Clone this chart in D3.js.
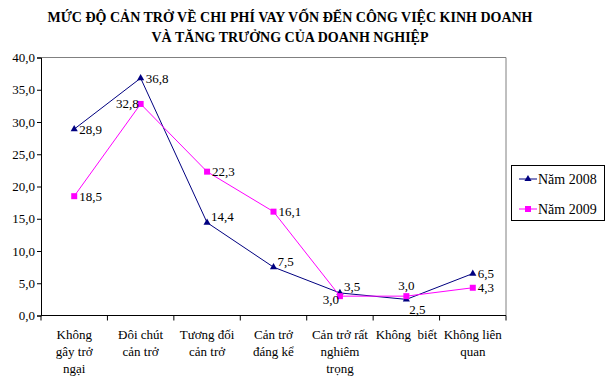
<!DOCTYPE html>
<html><head><meta charset="utf-8">
<script src="https://cdn.jsdelivr.net/npm/d3@7"></script>
<style>body{margin:0;background:#fff}</style>
</head><body><svg id="c" width="610" height="380"></svg>
<script>
const titleLines = ["MỨC ĐỘ CẢN TRỞ VỀ CHI PHÍ VAY VỐN ĐẾN CÔNG VIỆC KINH DOANH", "VÀ TĂNG TRƯỞNG CỦA DOANH NGHIỆP"];
const categories = ["Không gây trở ngại","Đôi chút cản trở","Tương đối cản trở","Cản trở đáng kể","Cản trở rất nghiêm trọng","Không  biết","Không liên quan"];
const categoryLines = [["Không","gây trở","ngại"],["Đôi chút","cản trở"],["Tương đối","cản trở"],["Cản trở","đáng kể"],["Cản trở rất","nghiêm","trọng"],["Không  biết"],["Không liên","quan"]];
const seriesNames = ["Năm 2008","Năm 2009"];
const values2008 = [28.9, 36.8, 14.4, 7.5, 3.5, 2.5, 6.5];
const values2009 = [18.5, 32.8, 22.3, 16.1, 3.0, 3.0, 4.3];
const yTicks = [0,5,10,15,20,25,30,35,40];
// label placement for each point
const labelPos2008 = ["right","right","rightUp","rightUp","rightUp","rightDown","right"];
const labelPos2009 = ["right","left","right","right","leftDown","above","right"];

const FONT = "'Liberation Serif', 'Times New Roman', serif";
const svg = d3.select("#c");
const colors = ["#000080","#FF00FF"];
const x = d3.scaleBand().domain(categories).range([41,506]);
const y = d3.scaleLinear().domain([0,40]).range([315.5,57.5]);

// title
svg.selectAll(".title").data(titleLines).join("text")
  .attr("x",290).attr("y",(d,i)=>22+i*20).attr("text-anchor","middle")
  .style("font-family",FONT).style("font-size","14px").style("font-weight","bold").text(d=>d);

// plot border (top, right)
svg.append("path").attr("d",`M${x.range()[0]},${y(40)}H${x.range()[1]}V${y(0)}`)
  .attr("fill","none").attr("stroke","#808080").attr("stroke-width",1);

// y axis
const yAxis = svg.append("g").attr("transform",`translate(${x.range()[0]},0)`)
  .call(d3.axisLeft(y).tickValues(yTicks).tickSize(4).tickPadding(2).tickFormat(d=>d3.format(".1f")(d).replace(".",",")));
yAxis.select(".domain").attr("stroke","#000");
yAxis.selectAll("text").style("font-size","13px").attr("fill","#000").style("font-family",FONT);

// x axis
const xAxis = svg.append("g").attr("transform",`translate(0,${y(0)})`);
xAxis.append("line").attr("x1",x.range()[0]).attr("x2",x.range()[1]).attr("stroke","#000");
const bounds = categories.map(c=>x(c)).concat([x.range()[1]]);
xAxis.selectAll(".tk").data(bounds).join("line")
  .attr("x1",d=>d).attr("x2",d=>d).attr("y1",0).attr("y2",5).attr("stroke","#000");
categories.forEach((c,i)=>{
  const t = xAxis.append("text").attr("text-anchor","middle").style("font-size","13px").style("font-family",FONT)
    .style("white-space","pre").attr("x",x(c)+x.bandwidth()/2).attr("y",23);
  categoryLines[i].forEach((l,j)=>t.append("tspan").attr("x",x(c)+x.bandwidth()/2).attr("dy",j?17:0).text(l));
});

const cx = c=>x(c)+x.bandwidth()/2;
const series = [values2008, values2009];
const positions = [labelPos2008, labelPos2009];
const line = d3.line().x((d,i)=>cx(categories[i])).y(d=>y(d));
const tri = d3.symbol().type(d3.symbolTriangle).size(22);
const sq = d3.symbol().type(d3.symbolSquare).size(36);

series.forEach((vals,s)=>{
  svg.append("path").datum(vals).attr("d",line).attr("fill","none").attr("stroke",colors[s]).attr("stroke-width",1);
  svg.selectAll(".m"+s).data(vals).join("path")
    .attr("transform",(d,i)=>`translate(${cx(categories[i])},${y(d)})`)
    .attr("d",s===0?tri:sq).attr("fill",colors[s]);
});

const off = {right:[5,4.5,"start"],rightUp:[4,-1.5,"start"],rightDown:[3,15,"start"],left:[-2,4.5,"end"],leftDown:[-1,7.5,"end"],above:[0,-6,"middle"]};
series.forEach((vals,s)=>{
  svg.selectAll(".l"+s).data(vals).join("text")
    .attr("x",(d,i)=>cx(categories[i])+off[positions[s][i]][0])
    .attr("y",(d,i)=>y(d)+off[positions[s][i]][1])
    .attr("text-anchor",(d,i)=>off[positions[s][i]][2])
    .style("font-size","13px").style("font-family",FONT).text(d=>d3.format(".1f")(d).replace(".",","));
});

// legend
const lg = svg.append("g");
lg.append("rect").attr("x",511.5).attr("y",165.5).attr("width",93).attr("height",55).attr("fill","#fff").attr("stroke","#000");
seriesNames.forEach((n,s)=>{
  const yy = 179 + s*30;
  lg.append("line").attr("x1",519).attr("x2",537).attr("y1",yy).attr("y2",yy).attr("stroke",colors[s]);
  lg.append("path").attr("transform",`translate(528,${yy})`).attr("d",s===0?tri:sq).attr("fill",colors[s]);
  lg.append("text").attr("x",538).attr("y",yy+5).style("font-size","14px").style("font-family",FONT).text(n);
});
</script></body></html>
